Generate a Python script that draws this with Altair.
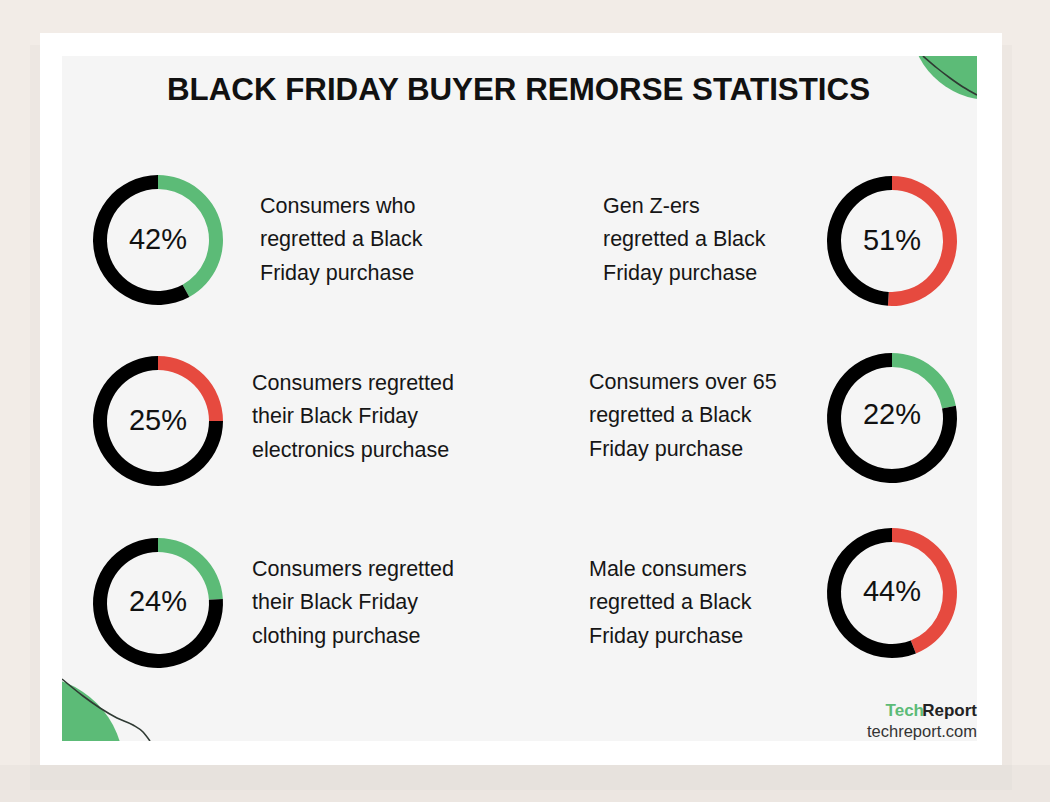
import math
import altair as alt
import pandas as pd

W, H = 1050, 802

# ---------------- data ----------------
title = "BLACK FRIDAY BUYER REMORSE STATISTICS"
values = [42, 51, 25, 22, 24, 44]
accents = ["green", "red", "red", "green", "green", "red"]
labels = [
    ["Consumers who", "regretted a Black", "Friday purchase"],
    ["Gen Z-ers", "regretted a Black", "Friday purchase"],
    ["Consumers regretted", "their Black Friday", "electronics purchase"],
    ["Consumers over 65", "regretted a Black", "Friday purchase"],
    ["Consumers regretted", "their Black Friday", "clothing purchase"],
    ["Male consumers", "regretted a Black", "Friday purchase"],
]
brand_a, brand_b, site = "Tech", "Report", "techreport.com"

# ---------------- layout ----------------
donut_cx = [158, 892, 158, 892, 158, 892]
donut_cy = [240, 241, 421, 418, 603, 593]
pct_base = [249, 250, 430, 424, 611, 601]
label_x = [260, 603, 252, 589, 252, 589]
label_base0 = [212.5, 212.5, 389.5, 388.5, 575.5, 575.5]
LINE = 33.8

GREEN = "#5cbb77"
RED = "#e64a3f"
BG = "#f2ece7"
PANEL = "#f5f5f5"
accent_color = {"green": GREEN, "red": RED}

xs = alt.Scale(domain=[0, W], range=[0, W], nice=False, zero=False)
ys = alt.Scale(domain=[0, H], range=[0, H], nice=False, zero=False)


def X(f):
    return alt.X(f, type="quantitative", scale=xs, axis=None)


def Y(f):
    return alt.Y(f, type="quantitative", scale=ys, axis=None)


def rects(rows, opacity=1.0):
    df = pd.DataFrame(rows, columns=["x", "x2", "y", "y2", "fill"])
    return alt.Chart(df).mark_rect(strokeWidth=0, opacity=opacity).encode(
        x=X("x"), x2="x2", y=Y("y"), y2="y2",
        color=alt.Color("fill:N", scale=None))


# background frame
base_rects = rects([
    [0, W, 0, H, BG],
    [40, 1002, 33, 765, "#ffffff"],
    [62, 977, 56, 741, PANEL],
])


# decorative corner blobs
def blob(cx, cy, r):
    return alt.Chart(pd.DataFrame({"cx": [cx], "cy": [cy]})).mark_arc(
        color=GREEN, radius=r, theta=0, theta2=2 * math.pi).encode(
        x=X("cx"), y=Y("cy"))


blobs = alt.layer(blob(990, 20, 80), blob(31, 769, 93))

curve_tr_x = [923, 937, 950, 963, 977]
curve_tr_y = [56, 68, 78, 87, 95]
curve_bl_x = [62, 83, 100, 117, 133, 143, 150]
curve_bl_y = [679, 696, 708, 718, 725, 732, 741]
curves_df = pd.concat([
    pd.DataFrame({"x": curve_tr_x, "y": curve_tr_y, "g": "tr"}),
    pd.DataFrame({"x": curve_bl_x, "y": curve_bl_y, "g": "bl"}),
])
curves = alt.Chart(curves_df).mark_line(
    color="#2f3a33", strokeWidth=1.6, interpolate="monotone").encode(
    x=X("x"), y=Y("y"), detail="g:N", order="x:Q")

# covers to clip blobs to panel / card
covers = rects([
    [40, 1002, 33, 56, "#ffffff"],
    [977, 1002, 33, 765, "#ffffff"],
    [40, 62, 33, 765, "#ffffff"],
    [40, 1002, 741, 765, "#ffffff"],
    [880, W, 0, 33, BG],
    [1002, W, 0, 120, BG],
    [0, 40, 650, H, BG],
    [0, 160, 765, H, BG],
])

# soft shadow around the card (outside only)
shadow = rects([
    [0, W, 765, 802, "#d8d2cc"],
    [30, 1012, 765, 790, "#d8d2cc"],
    [1002, 1012, 45, 765, "#dcd6d0"],
    [30, 40, 45, 765, "#dcd6d0"],
], opacity=0.2)

# donuts
arc_rows = []
for i, v in enumerate(values):
    arc_rows.append({"cx": donut_cx[i], "cy": donut_cy[i], "a": 0, "b": v,
                     "col": accent_color[accents[i]]})
    arc_rows.append({"cx": donut_cx[i], "cy": donut_cy[i], "a": v, "b": 100,
                     "col": "#000000"})
arcs = alt.Chart(pd.DataFrame(arc_rows)).mark_arc(radius=65, radius2=51).encode(
    x=X("cx"), y=Y("cy"),
    theta=alt.Theta("a:Q", scale=alt.Scale(domain=[0, 100], range=[0, 2 * math.pi]),
                    stack=None),
    theta2="b:Q",
    color=alt.Color("col:N", scale=None))

pct_df = pd.DataFrame({"x": donut_cx, "y": pct_base,
                       "t": [f"{v}%" for v in values]})
pcts = alt.Chart(pct_df).mark_text(
    font="Liberation Sans", fontSize=29, color="#111111",
    align="center", baseline="alphabetic").encode(
    x=X("x"), y=Y("y"), text="t:N")

lab_rows = []
for i, lines in enumerate(labels):
    for j, line in enumerate(lines):
        lab_rows.append({"x": label_x[i], "y": label_base0[i] + j * LINE, "t": line})
labs = alt.Chart(pd.DataFrame(lab_rows)).mark_text(
    font="Liberation Sans", fontSize=21.5, color="#161616",
    align="left", baseline="alphabetic").encode(
    x=X("x"), y=Y("y"), text="t:N")

title_df = pd.DataFrame({"x": [518.5], "y": [100], "t": [title]})
title_l = alt.Chart(title_df).mark_text(
    font="Liberation Sans", fontSize=31.3, fontWeight="bold", color="#111111",
    align="center", baseline="alphabetic").encode(
    x=X("x"), y=Y("y"), text="t:N")

brand_df = pd.DataFrame({
    "x": [924, 977, 977], "y": [716, 716, 736.5],
    "t": [brand_a, brand_b, site],
    "c": [GREEN, "#222222", "#333333"],
})
brand_bold = alt.Chart(brand_df.iloc[:2]).mark_text(
    font="Liberation Sans", fontSize=17, fontWeight="bold",
    align="right", baseline="alphabetic").encode(
    x=X("x"), y=Y("y"), text="t:N", color=alt.Color("c:N", scale=None))
brand_site = alt.Chart(brand_df.iloc[2:]).mark_text(
    font="Liberation Sans", fontSize=16.5, color="#333333",
    align="right", baseline="alphabetic").encode(
    x=X("x"), y=Y("y"), text="t:N")

chart = alt.layer(
    base_rects, blobs, curves, covers, shadow, arcs, pcts, labs, title_l,
    brand_bold, brand_site
).properties(
    width=W, height=H, padding=0,
    autosize=alt.AutoSizeParams(type="none"),
    background=BG,
).configure_view(stroke=None)

chart.save("out.html", embed_options={"renderer": "svg", "actions": False})
